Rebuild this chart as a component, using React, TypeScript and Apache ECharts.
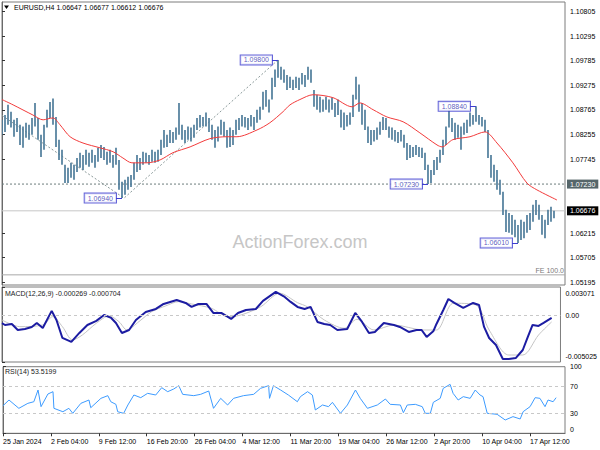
import React, { useEffect, useRef } from "react";
import * as echarts from "echarts";

const FONT = "'Liberation Sans', Arial, sans-serif";

// ---- header values ----
const symbolName = "EURUSD,H4";
const lastOHLC = [1.06647, 1.06677, 1.06612, 1.06676];
const macdLast = [-0.000269, -0.000704];
const rsiLast = 53.5199;

// ---- axes ----
const timeLabels = [
  "25 Jan 2024", "2 Feb 04:00", "9 Feb 12:00", "16 Feb 20:00", "26 Feb 04:00", "4 Mar 12:00",
  "11 Mar 20:00", "19 Mar 04:00", "26 Mar 12:00", "2 Apr 20:00", "10 Apr 04:00", "17 Apr 12:00",
];
const timeTickIdx = [0, 16, 32, 48, 64, 80, 96, 112, 128, 144, 160, 176];
const priceTicks = [1.10805, 1.10295, 1.09785, 1.09275, 1.08765, 1.08255, 1.07745, 1.06215, 1.05705, 1.05195];
const macdTicks = [0.003071, 0, -0.005025];
const rsiTicks = [100, 70, 30, 0];

// ---- price bars (8-hour steps, high / low) ----
const barHigh = [
  1.0856, 1.0866, 1.0887, 1.0873, 1.0856, 1.0860, 1.0846, 1.0842, 1.0850, 1.0846,
  1.0860, 1.0891, 1.0860, 1.0825, 1.0846, 1.0877, 1.0893, 1.0900, 1.0862, 1.0815,
  1.0794, 1.0763, 1.0757, 1.0767, 1.0763, 1.0777, 1.0788, 1.0783, 1.0794, 1.0788,
  1.0794, 1.0783, 1.0798, 1.0804, 1.0800, 1.0790, 1.0794, 1.0783, 1.0798, 1.0773,
  1.0728, 1.0732, 1.0738, 1.0742, 1.0767, 1.0783, 1.0777, 1.0790, 1.0788, 1.0783,
  1.0794, 1.0790, 1.0794, 1.0815, 1.0835, 1.0825, 1.0835, 1.0831, 1.0840, 1.0891,
  1.0846, 1.0835, 1.0842, 1.0840, 1.0846, 1.0860, 1.0866, 1.0862, 1.0871, 1.0860,
  1.0846, 1.0835, 1.0842, 1.0856, 1.0852, 1.0835, 1.0840, 1.0835, 1.0856, 1.0860,
  1.0866, 1.0862, 1.0860, 1.0866, 1.0862, 1.0877, 1.0883, 1.0914, 1.0918, 1.0898,
  1.0943, 1.0960, 1.0980, 1.0966, 1.0960, 1.0949, 1.0945, 1.0939, 1.0945, 1.0943,
  1.0953, 1.0949, 1.0966, 1.0960, 1.0918, 1.0908, 1.0904, 1.0898, 1.0904, 1.0898,
  1.0902, 1.0891, 1.0898, 1.0877, 1.0871, 1.0866, 1.0871, 1.0908, 1.0945, 1.0929,
  1.0891, 1.0877, 1.0842, 1.0835, 1.0835, 1.0840, 1.0852, 1.0862, 1.0860, 1.0842,
  1.0840, 1.0835, 1.0831, 1.0835, 1.0825, 1.0808, 1.0804, 1.0800, 1.0804, 1.0800,
  1.0798, 1.0788, 1.0763, 1.0752, 1.0773, 1.0779, 1.0794, 1.0815, 1.0842, 1.0877,
  1.0860, 1.0850, 1.0846, 1.0842, 1.0850, 1.0856, 1.0871, 1.0866, 1.0884, 1.0866,
  1.0862, 1.0856, 1.0835, 1.0783, 1.0763, 1.0752, 1.0732, 1.0707, 1.0670, 1.0663,
  1.0659, 1.0649, 1.0638, 1.0649, 1.0645, 1.0659, 1.0663, 1.0680, 1.0690, 1.0680,
  1.0659, 1.0649, 1.0670, 1.0676, 1.0668,
];
const barLow = [
  1.0825, 1.0831, 1.0846, 1.0840, 1.0821, 1.0831, 1.0804, 1.0798, 1.0819, 1.0815,
  1.0825, 1.0842, 1.0815, 1.0779, 1.0794, 1.0840, 1.0860, 1.0846, 1.0800, 1.0773,
  1.0763, 1.0725, 1.0725, 1.0736, 1.0732, 1.0748, 1.0757, 1.0752, 1.0763, 1.0759,
  1.0767, 1.0757, 1.0769, 1.0777, 1.0773, 1.0763, 1.0767, 1.0757, 1.0763, 1.0711,
  1.0694, 1.0701, 1.0711, 1.0717, 1.0732, 1.0748, 1.0752, 1.0763, 1.0767, 1.0763,
  1.0769, 1.0767, 1.0769, 1.0783, 1.0798, 1.0800, 1.0808, 1.0808, 1.0815, 1.0825,
  1.0815, 1.0808, 1.0815, 1.0811, 1.0819, 1.0835, 1.0840, 1.0842, 1.0842, 1.0831,
  1.0815, 1.0798, 1.0811, 1.0825, 1.0821, 1.0798, 1.0800, 1.0804, 1.0825, 1.0835,
  1.0842, 1.0840, 1.0835, 1.0842, 1.0835, 1.0850, 1.0856, 1.0877, 1.0883, 1.0871,
  1.0898, 1.0924, 1.0943, 1.0939, 1.0933, 1.0918, 1.0922, 1.0918, 1.0922, 1.0918,
  1.0929, 1.0924, 1.0939, 1.0933, 1.0883, 1.0877, 1.0871, 1.0873, 1.0877, 1.0871,
  1.0877, 1.0862, 1.0866, 1.0840, 1.0835, 1.0842, 1.0846, 1.0862, 1.0898, 1.0873,
  1.0846, 1.0835, 1.0808, 1.0804, 1.0811, 1.0815, 1.0825, 1.0835, 1.0835, 1.0819,
  1.0815, 1.0811, 1.0808, 1.0811, 1.0798, 1.0773, 1.0777, 1.0779, 1.0783, 1.0779,
  1.0777, 1.0752, 1.0723, 1.0725, 1.0742, 1.0752, 1.0767, 1.0783, 1.0804, 1.0840,
  1.0831, 1.0815, 1.0819, 1.0794, 1.0825, 1.0829, 1.0842, 1.0846, 1.0852, 1.0846,
  1.0842, 1.0831, 1.0777, 1.0736, 1.0728, 1.0711, 1.0701, 1.0659, 1.0624, 1.0622,
  1.0618, 1.0613, 1.0601, 1.0607, 1.0611, 1.0622, 1.0628, 1.0645, 1.0659, 1.0649,
  1.0618, 1.0611, 1.0638, 1.0645, 1.0652,
];

// ---- moving average (red) [bar index, price] ----
const maLine = [
  [0, 1.0898], [3.7, 1.0887], [10.3, 1.0866], [13.7, 1.0856], [15.3, 1.0858], [17, 1.0860],
  [19.3, 1.0846], [22.7, 1.0821], [27, 1.0808], [32.7, 1.0798], [37, 1.0790], [40.3, 1.0777],
  [43.3, 1.0767], [48.3, 1.0767], [52.7, 1.0773], [57, 1.0788], [62.7, 1.0800], [69.3, 1.0817],
  [75, 1.0821], [78.3, 1.0821], [85, 1.0835], [89.3, 1.0850], [93.7, 1.0873], [96, 1.0887],
  [99.3, 1.0898], [103.7, 1.0908], [110.3, 1.0902], [116.7, 1.0883], [119.3, 1.0891],
  [123.7, 1.0877], [128.3, 1.0862], [133.7, 1.0852], [139.3, 1.0829], [145, 1.0804],
  [146.7, 1.0800], [150.3, 1.0815], [156, 1.0821], [161, 1.0831], [165, 1.0808],
  [170.3, 1.0767], [175, 1.0725], [178.3, 1.0711], [185, 1.0690],
];

// ---- Fibonacci expansion legs and levels ----
const feLegs = [[0, 1.0865], [40.7, 1.0694], [92, 1.0980]];
const supportLevel = 1.0723;
const lastClose = 1.06676;
const fe100Level = 1.0535;

// ---- swing labels ----
const swingIdx = [92, 40, 142, 158, 172];
const swingPrice = [1.0980, 1.0694, 1.0723, 1.0884, 1.0601];

// ---- MACD [bar index, value] ----
const macdMain = [
  [0, -0.00084], [1, -0.00103], [3.3, -0.00092], [5.3, -0.00157], [7.7, -0.00146], [10, -0.00124],
  [11.7, -0.00081], [13.7, -0.00135], [16.7, 0.00049], [18.3, -0.00049], [20.3, -0.00243],
  [23.3, -0.00286], [26, -0.00189], [28.7, -0.00103], [31.7, -0.00059], [34.3, 0.00005],
  [36.7, -0.00027], [38.3, -0.00081], [40.3, -0.00189], [42.7, -0.00157], [45, -0.00049],
  [48.3, 0.00038], [51.7, 0.0007], [54.3, 0.00124], [58.7, 0.00167], [61.7, 0.00135],
  [63.7, 0.00092], [66, 0.00124], [68.7, 0.00124], [71, 0.00027], [73.7, 0.00027],
  [77, -0.00038], [79.3, 0.00027], [82, 0.00059], [85.3, 0.0007], [87.7, 0.00157],
  [92, 0.00254], [95, 0.002], [97, 0.00146], [99.3, 0.00092], [101.7, 0.0007], [103.7, 0.00092],
  [106, -0.0007], [108.3, -0.00092], [110.3, -0.00103], [112.7, -0.00157], [116, -0.00146],
  [118.7, 0.00027], [121, -0.0007], [123.3, -0.00189], [125.3, -0.00178], [128.3, -0.00081],
  [131.7, -0.00103], [133.7, -0.00124], [136.7, -0.00178], [139.3, -0.00157], [141, -0.00157],
  [142.7, -0.00232], [145, -0.00167], [146, -0.00092], [148.3, 0.00059], [150, 0.00178],
  [152, 0.00135], [155, 0.00081], [158.3, 0.00135], [160.3, 0.00113], [162, -0.00124],
  [163.7, -0.00243], [166, -0.00319], [168.3, -0.0047], [170.3, -0.0047], [172.7, -0.00459],
  [175, -0.00373], [176.7, -0.00232], [178.3, -0.00103], [180.3, -0.00113], [182, -0.00081],
  [184.7, -0.00027],
];
const macdSignal = [
  [0, -0.00049], [6, -0.00121], [13.7, -0.00103], [17, -0.00013], [20.3, -0.00121],
  [23.7, -0.00265], [27, -0.00211], [31.7, -0.00084], [36, -0.00005], [39.3, -0.00067],
  [42, -0.00157], [46, -0.00067], [50.3, 0.00041], [55, 0.00103], [59.3, 0.00149],
  [63.7, 0.00124], [70.3, 0.00078], [76, -0.00013], [80.3, 0.00005], [87, 0.00095],
  [93.3, 0.0024], [99.3, 0.00138], [102.7, 0.00092], [108.3, -0.00049], [115, -0.00138],
  [119.3, -0.00041], [125, -0.00157], [131.7, -0.00103], [141.7, -0.00157], [146, -0.00157],
  [151.7, 0.00132], [159.3, 0.00113], [163.7, -0.00157], [170.3, -0.00427], [175, -0.00427],
  [180.3, -0.00211], [184.7, -0.0007],
];

// ---- RSI(14) [bar index, value] ----
const rsiLine = [
  [0, 41.4], [2, 50], [5.3, 37.5], [8.3, 45], [10.3, 47.4], [11.7, 65], [12.7, 40], [15, 59],
  [16.7, 62.5], [17, 37.5], [20, 32.4], [22, 37.5], [23.3, 30], [26, 45], [28.7, 50], [29.3, 38.4],
  [32.7, 52.5], [35, 56.5], [36, 47.4], [37.7, 43.5], [38.3, 32.4], [40.3, 30], [41.7, 42.5],
  [43.7, 57.5], [46, 53.5], [48.3, 60], [51, 57.5], [53, 68.5], [55, 62.5], [57, 66.5],
  [58.7, 71.5], [60, 58.5], [63.7, 56.5], [66, 58.5], [68.7, 63.5], [70.3, 37.5], [72.7, 52.5],
  [75, 42.5], [77, 52.5], [80.3, 56.5], [83.7, 58.5], [86, 67.5], [88.7, 71.5], [89, 52.5],
  [90.3, 71.5], [92.7, 65], [95.3, 57.5], [98.3, 47.4], [99.3, 55], [101.7, 62.5], [103.3, 57.5],
  [104.3, 35], [106.7, 42.5], [108.7, 40], [110, 46.5], [112.7, 30], [115, 42.5], [117.7, 65],
  [119.3, 52.5], [121.7, 37.5], [125, 42.5], [127.7, 51.5], [129.3, 43.5], [132.7, 42.5],
  [133.7, 31], [135, 42.5], [137.7, 43.5], [140, 40], [141, 30], [142.7, 30], [143.7, 46.5],
  [146, 52.5], [147, 67.5], [149.3, 73.5], [150.3, 60], [152, 50], [153.7, 55], [156, 52.5],
  [157.7, 65], [159.3, 57.5], [160.3, 55], [161.7, 30], [165, 28.5], [167.7, 20], [170.3, 25],
  [172.7, 21.5], [173.7, 32.5], [176, 40], [177.7, 53.5], [179.3, 52.5], [181, 40], [182, 50],
  [183.7, 47.4], [184.7, 53.5],
];

const X_MAX = 187.67;
const near = (a: number, b: number) => Math.abs(a - b) < 1e-9;

export default function App() {
  const ref = useRef<HTMLDivElement>(null);

  useEffect(() => {
    if (!ref.current) return;
    const chart = echarts.init(ref.current, undefined, { renderer: "svg" });

    const baseTxt = { fontSize: 7, color: "#000", fontFamily: FONT };
    const gridBorder = { show: true, borderColor: "#7d7d7d", borderWidth: 1, backgroundColor: "transparent" };
    const axisLineStyle = { show: true, lineStyle: { color: "#6a6a6a", width: 1 } };

    const xHidden = (g: number) => ({
      gridIndex: g, type: "value", min: 0, max: X_MAX, show: false,
    });

    const levelSeries = (name: string, level: number, lineStyle: any, endLabel: any) => ({
      name,
      type: "line",
      xAxisIndex: 0, yAxisIndex: 0,
      data: [[0, level], [X_MAX, level]],
      symbol: "none",
      silent: true,
      z: 1,
      lineStyle,
      endLabel: { show: true, fontSize: 7, fontFamily: FONT, ...endLabel },
    });

    const option: any = {
      animation: false,
      backgroundColor: "#ffffff",
      textStyle: { fontFamily: FONT },
      title: [
        {
          text: `${symbolName} ${lastOHLC.map((v) => v.toFixed(5)).join(" ")}`,
          left: 14, top: 3.5, padding: 0,
          textStyle: { ...baseTxt, fontWeight: "normal" },
        },
        {
          text: `MACD(12,26,9) ${macdLast.map((v) => v.toFixed(6)).join(" ")}`,
          left: 5, top: 290, padding: 0,
          textStyle: { ...baseTxt, fontWeight: "normal", color: "#222" },
        },
        {
          text: `RSI(14) ${rsiLast.toFixed(4)}`,
          left: 5, top: 368, padding: 0,
          textStyle: { ...baseTxt, fontWeight: "normal", color: "#222" },
        },
        {
          text: "ActionForex.com",
          left: "center", top: 233, padding: 0,
          textStyle: { fontSize: 18, color: "#c6c6c6", fontWeight: "normal", fontFamily: FONT },
          z: 0,
        },
      ],
      graphic: [
        { type: "polygon", shape: { points: [[4, 5.5], [9, 5.5], [6.5, 9]] }, style: { fill: "#000" } },
      ],
      grid: [
        { left: 2, top: 2, width: 563, height: 283, ...gridBorder },
        { left: 2, top: 287, width: 563, height: 75, ...gridBorder },
        { left: 2, top: 366.7, width: 563, height: 66.6, ...gridBorder },
      ],
      xAxis: [
        xHidden(0),
        xHidden(1),
        {
          gridIndex: 2, type: "value", min: 0, max: X_MAX,
          axisLine: axisLineStyle,
          axisTick: { show: true, length: 3, customValues: timeTickIdx, lineStyle: { color: "#333" } },
          axisLabel: {
            ...baseTxt, customValues: timeTickIdx, align: "left", margin: 5,
            formatter: (v: number) => {
              const k = timeTickIdx.indexOf(Math.round(v));
              return k >= 0 ? timeLabels[k] : "";
            },
          },
          splitLine: { show: false },
        },
      ],
      yAxis: [
        {
          gridIndex: 0, type: "value", position: "right", min: 1.0514, max: 1.11,
          axisLine: axisLineStyle,
          axisTick: { show: true, length: 3, customValues: priceTicks, lineStyle: { color: "#333" } },
          axisLabel: { ...baseTxt, customValues: priceTicks, margin: 5, formatter: (v: number) => v.toFixed(5) },
          splitLine: { show: false },
        },
        {
          gridIndex: 1, type: "value", position: "right", min: macdTicks[2], max: macdTicks[0],
          axisLine: axisLineStyle,
          axisTick: { show: true, length: 3, customValues: macdTicks, lineStyle: { color: "#333" } },
          axisLabel: {
            ...baseTxt, customValues: macdTicks, margin: 5, showMinLabel: true, showMaxLabel: true,
            lineHeight: 12,
            formatter: (v: number) => {
              if (near(v, 0)) return "0.00";
              if (near(v, macdTicks[0])) return `\n${v.toFixed(6)}`;
              if (near(v, macdTicks[2])) return `${v.toFixed(6)}\n`;
              return v.toFixed(6);
            },
          },
          splitLine: { show: false },
        },
        {
          gridIndex: 2, type: "value", position: "right", min: 0, max: 100,
          axisLine: axisLineStyle,
          axisTick: { show: true, length: 3, customValues: rsiTicks, lineStyle: { color: "#333" } },
          axisLabel: {
            ...baseTxt, customValues: rsiTicks, margin: 5, showMinLabel: true, showMaxLabel: true,
            lineHeight: 8,
            formatter: (v: number) => (near(v, 0) ? `${v}\n` : `${v}`),
          },
          splitLine: { show: false },
        },
      ],
      series: [
        levelSeries("support", supportLevel, { color: "#6d7d7d", type: [2, 2], width: 1 }, {
          formatter: supportLevel.toFixed(5), distance: 2,
          backgroundColor: "#56666a", color: "#fff", padding: [1, 3],
        }),
        levelSeries("last", lastClose, { color: "#c6c6c6", type: "solid", width: 1 }, {
          formatter: lastClose.toFixed(5), distance: 2,
          backgroundColor: "#000", color: "#fff", padding: [1, 3],
        }),
        levelSeries("fe100", fe100Level, { color: "#a8a8a8", type: "solid", width: 1 }, {
          formatter: "FE 100.0", distance: 0, align: "right", verticalAlign: "bottom",
          offset: [-1, -1], color: "#7a7a7a",
        }),
        {
          name: "price",
          type: "custom",
          xAxisIndex: 0, yAxisIndex: 0,
          clip: true,
          z: 3,
          encode: { x: 0, y: [1, 2] },
          data: barHigh.map((h, i) => [i, barLow[i], h]),
          renderItem: (_p: any, api: any) => {
            const j = api.value(0);
            const top = api.coord([j, api.value(2)]);
            const bot = api.coord([j, api.value(1)]);
            return {
              type: "line",
              shape: { x1: top[0], y1: top[1], x2: bot[0], y2: bot[1] },
              style: { stroke: "#4f7d9b", lineWidth: 1.7 },
            };
          },
        },
        {
          name: "MA",
          type: "line",
          xAxisIndex: 0, yAxisIndex: 0,
          data: maLine,
          symbol: "none",
          smooth: 0.3,
          z: 4,
          lineStyle: { color: "#f23b3b", width: 1 },
        },
        {
          name: "FE legs",
          type: "line",
          xAxisIndex: 0, yAxisIndex: 0,
          data: feLegs,
          symbol: "none",
          z: 2,
          lineStyle: { color: "#8b9a9a", width: 1, type: [2, 2] },
        },
        {
          name: "swings",
          type: "scatter",
          xAxisIndex: 0, yAxisIndex: 0,
          symbolSize: 0,
          z: 6,
          data: swingIdx.map((j, k) => [j, swingPrice[k]]),
          label: {
            show: true, position: "left", distance: 6,
            formatter: (p: any) => Number(p.value[1]).toFixed(5),
            color: "#2f2fae", fontSize: 7, fontFamily: FONT,
            backgroundColor: "#fff", borderColor: "#3d3dd0", borderWidth: 1, padding: [1, 3],
          },
          markLine: {
            silent: true, symbol: ["none", "none"], animation: false,
            lineStyle: { color: "#3d3dd0", width: 1, type: "solid" },
            label: { show: false },
            data: swingIdx.map((j, k) => [
              { coord: [j - 2, swingPrice[k]] },
              { coord: [j, swingPrice[k]] },
            ]),
          },
        },
        {
          name: "MACD signal",
          type: "line",
          xAxisIndex: 1, yAxisIndex: 1,
          data: macdSignal,
          symbol: "none",
          smooth: 0.3,
          z: 2,
          lineStyle: { color: "#c4c4c4", width: 1 },
          markLine: {
            silent: true, symbol: ["none", "none"], animation: false,
            label: { show: false },
            lineStyle: { color: "#c8c8c8", type: [3, 3], width: 1 },
            data: [{ yAxis: 0 }],
          },
        },
        {
          name: "MACD",
          type: "line",
          xAxisIndex: 1, yAxisIndex: 1,
          data: macdMain,
          symbol: "none",
          z: 3,
          lineStyle: { color: "#1c1ca2", width: 2 },
        },
        {
          name: "RSI",
          type: "line",
          xAxisIndex: 2, yAxisIndex: 2,
          data: rsiLine,
          symbol: "none",
          z: 3,
          lineStyle: { color: "#3d9bff", width: 1 },
          markLine: {
            silent: true, symbol: ["none", "none"], animation: false,
            label: { show: false },
            lineStyle: { color: "#c8c8c8", type: [3, 3], width: 1 },
            data: [{ yAxis: 70 }, { yAxis: 30 }],
          },
        },
      ],
    };

    chart.setOption(option);
    return () => chart.dispose();
  }, []);

  return (
    <div
      ref={ref}
      style={{ position: "fixed", left: 0, top: 0, width: 600, height: 450, background: "#fff" }}
    />
  );
}
